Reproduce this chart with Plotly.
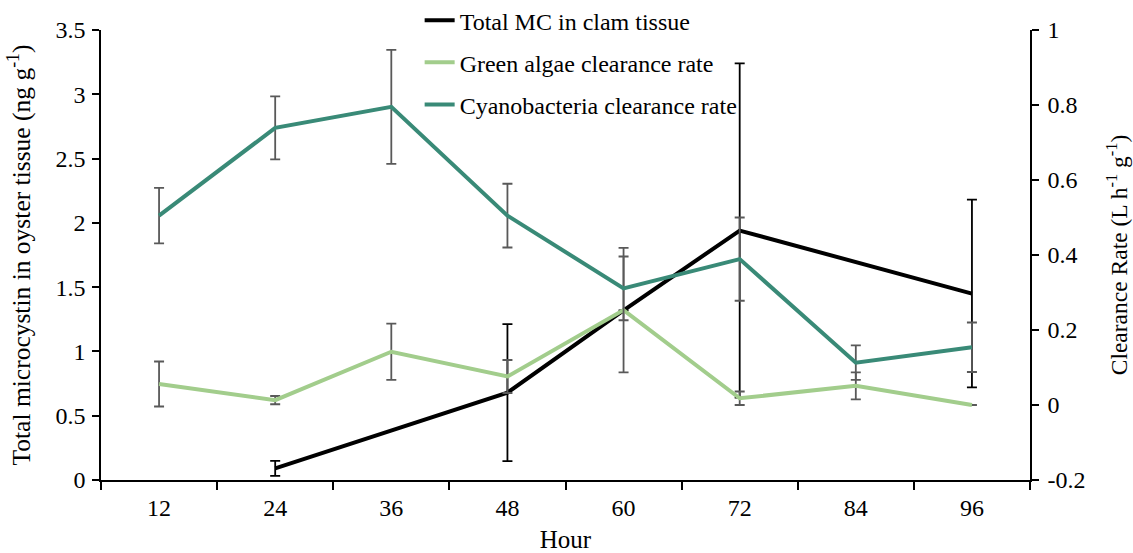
import plotly.graph_objects as go

hours = ["12", "24", "36", "48", "60", "72", "84", "96"]

# Total MC in clam tissue (left axis), None = no measurement
mc_total = [None, 0.09, None, 0.68, 1.32, 1.94, None, 1.45]
mc_err = [None, 0.058, None, 0.533, None, 1.30, None, 0.73]

# Clearance rates (right axis)
green_rate = [0.056, 0.013, 0.142, 0.076, 0.253, 0.018, 0.051, 0.0]
green_err = [0.060, 0.011, 0.075, 0.044, 0.166, 0.018, 0.036, 0.0]

cyano_rate = [0.505, 0.739, 0.795, 0.505, 0.311, 0.389, 0.113, 0.154]
cyano_err = [0.074, 0.084, 0.152, 0.085, 0.085, 0.111, 0.046, 0.066]

FONT = "Liberation Serif, Times New Roman, serif"
GRAY = "#595959"

fig = go.Figure()

fig.add_trace(go.Scatter(
    x=hours, y=mc_total, name="Total MC in clam tissue", mode="lines",
    line=dict(color="#000000", width=4), connectgaps=True,
    error_y=dict(type="data", array=mc_err, visible=True, color="#000000",
                 thickness=1.8, width=5),
    legendgroup="a", yaxis="y",
))
fig.add_trace(go.Scatter(
    x=hours, y=green_rate, name="Green algae clearance rate", mode="lines",
    line=dict(color="#A2CD8C", width=4),
    error_y=dict(type="data", array=green_err, visible=True, color=GRAY,
                 thickness=1.8, width=5),
    legendgroup="b", yaxis="y2",
))
fig.add_trace(go.Scatter(
    x=hours, y=cyano_rate, name="Cyanobacteria clearance rate", mode="lines",
    line=dict(color="#398A77", width=4),
    error_y=dict(type="data", array=cyano_err, visible=True, color=GRAY,
                 thickness=1.8, width=5),
    legendgroup="c", yaxis="y2",
))

axis_font = dict(family=FONT, size=24, color="#000000")

fig.update_layout(
    width=1133, height=553,
    margin=dict(l=101, r=103, t=30, b=73, autoexpand=False),
    paper_bgcolor="white", plot_bgcolor="white",
    font=dict(family=FONT, size=24, color="#000000"),
    showlegend=True,
    legend=dict(x=0.343, y=1.071, xanchor="left", yanchor="top",
                bgcolor="rgba(0,0,0,0)", font=dict(family=FONT, size=24),
                traceorder="grouped", tracegroupgap=8, itemwidth=30),
    xaxis=dict(
        type="category", categoryorder="array", categoryarray=hours,
        range=[-0.5, 7.5], tickson="boundaries",
        showline=True, linecolor="#000000", linewidth=1.5,
        ticks="outside", ticklen=8, tickcolor="#000000", tickwidth=1.5,
        tickfont=axis_font, showgrid=False, zeroline=False,
        ticklabelstandoff=5,
        title=dict(text="Hour", font=dict(family=FONT, size=25), standoff=12),
    ),
    yaxis=dict(
        range=[0, 3.5], dtick=0.5, showgrid=False, zeroline=False,
        showline=True, linecolor="#000000", linewidth=1.5,
        ticks="outside", ticklen=7, tickcolor="#000000", tickwidth=1.5,
        tickfont=axis_font, ticklabelstandoff=2,
        title=dict(text="Total microcystin in oyster tissue (ng g<sup>-1</sup>)",
                   font=dict(family=FONT, size=25.5), standoff=18),
    ),
    yaxis2=dict(
        range=[-0.2, 1.0], dtick=0.2, overlaying="y", side="right",
        showgrid=False, zeroline=False,
        showline=True, linecolor="#000000", linewidth=1.5,
        ticks="outside", ticklen=7, tickcolor="#000000", tickwidth=1.5,
        tickfont=axis_font, ticklabelstandoff=4,
        tickvals=[-0.2, 0, 0.2, 0.4, 0.6, 0.8, 1.0],
        ticktext=["-0.2", "0", "0.2", "0.4", "0.6", "0.8", "1"],
        title=dict(text="Clearance Rate (L h<sup>-1</sup> g<sup>-1</sup>)",
                   font=dict(family=FONT, size=23.5), standoff=26),
    ),
)

fig.write_html("out.html")
